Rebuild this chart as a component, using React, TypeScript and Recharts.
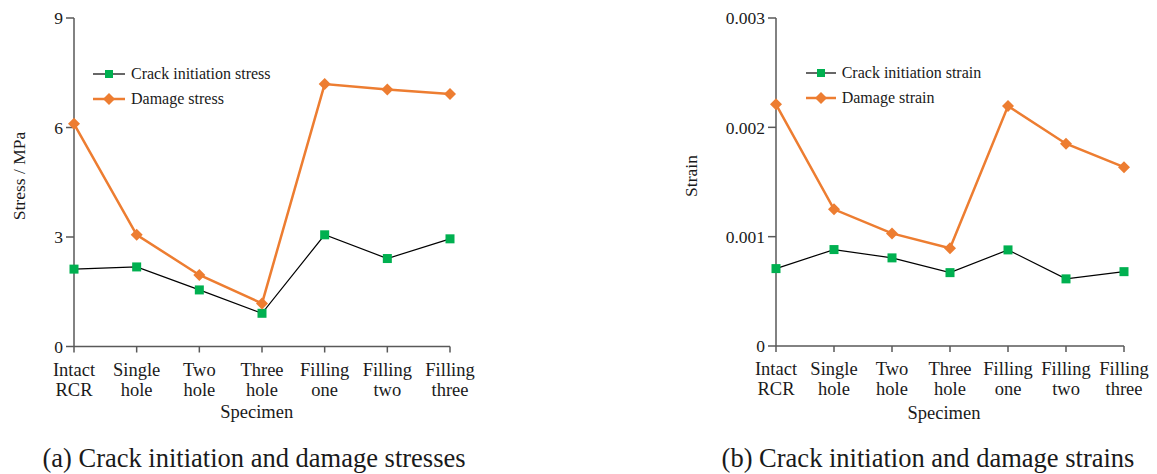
import { LineChart, Line, XAxis, YAxis } from "recharts";

const specimens = [
  "Intact RCR",
  "Single hole",
  "Two hole",
  "Three hole",
  "Filling one",
  "Filling two",
  "Filling three",
];

// stresses, MPa
const crackStress = [2.12, 2.18, 1.55, 0.91, 3.06, 2.41, 2.95];
const damageStress = [6.1, 3.06, 1.96, 1.18, 7.19, 7.04, 6.92];

// strains
const crackStrain = [0.000708, 0.000882, 0.000806, 0.000671, 0.000879, 0.000614, 0.00068];
const damageStrain = [0.00221, 0.00125, 0.00103, 0.000895, 0.002195, 0.00185, 0.001636];

const stressTicks = [0, 3, 6, 9];
const strainTicks = [0, 0.001, 0.002, 0.003];

const FONT = "Liberation Serif, Times New Roman, serif";
const AXIS = "#595959";
const GREEN = "#00B050";
const ORANGE = "#ED7D31";
const INK = "#1a1a1a";

const stressData = specimens.map((name, i) => ({
  name,
  crack: crackStress[i],
  damage: damageStress[i],
}));

const strainData = specimens.map((name, i) => ({
  name,
  crack: crackStrain[i],
  damage: damageStrain[i],
}));

const squareDot = (p: any) => (
  <rect key={`sq-${p.index}`} x={p.cx - 4.5} y={p.cy - 4.5} width={9} height={9} fill={GREEN} />
);

const diamondDot = (p: any) => (
  <polygon
    key={`dm-${p.index}`}
    points={`${p.cx},${p.cy - 6} ${p.cx + 6},${p.cy} ${p.cx},${p.cy + 6} ${p.cx - 6},${p.cy}`}
    fill={ORANGE}
  />
);

// two-line category labels, one word per line
const CategoryTick = ({ x, y, payload }: any) => {
  const words = String(payload.value).split(" ");
  return (
    <text x={x} y={y} textAnchor="middle" style={{ fontFamily: FONT, fontSize: 18.5, fill: INK }}>
      {words.map((w, i) => (
        <tspan key={i} x={x} dy={i === 0 ? 23 : 20}>
          {w}
        </tspan>
      ))}
    </text>
  );
};

function LegendBox({ names, iconW, left, top }: { names: string[]; iconW: number; left: number; top: number }) {
  return (
    <div style={{ position: "absolute", left, top, fontFamily: FONT, fontSize: 16, color: INK }}>
      {names.map((n, i) => (
        <div key={n} style={{ display: "flex", alignItems: "center", height: 25 }}>
          <svg width={iconW} height={14} style={{ marginRight: 6 }}>
            {i === 0 ? (
              <>
                <line x1={0} y1={7} x2={iconW} y2={7} stroke="#000" strokeWidth={1.2} />
                <rect x={iconW / 2 - 4} y={3} width={8} height={8} fill={GREEN} />
              </>
            ) : (
              <>
                <line x1={0} y1={7} x2={iconW} y2={7} stroke={ORANGE} strokeWidth={2.5} />
                <polygon
                  points={`${iconW / 2},1 ${iconW / 2 + 6},7 ${iconW / 2},13 ${iconW / 2 - 6},7`}
                  fill={ORANGE}
                />
              </>
            )}
          </svg>
          <span>{n}</span>
        </div>
      ))}
    </div>
  );
}

interface PanelProps {
  data: { name: string; crack: number; damage: number }[];
  ticks: number[];
  fmt: (v: number) => string;
  yTitle: string;
  yTitleX: number;
  xTitleX: number;
  xTitleY: number;
  width: number;
  marginLeft: number;
  marginRight: number;
  bottom: number;
}

function Panel(p: PanelProps) {
  const max = p.ticks[p.ticks.length - 1];
  return (
    <LineChart
      width={p.width}
      height={474}
      data={p.data}
      margin={{ top: 18, right: p.marginRight, bottom: p.bottom, left: p.marginLeft }}
    >
      <XAxis
        dataKey="name"
        height={60}
        interval={0}
        tick={<CategoryTick />}
        tickSize={6}
        tickMargin={0}
        axisLine={{ stroke: AXIS, strokeWidth: 1.5 }}
        tickLine={{ stroke: AXIS, strokeWidth: 1.5 }}
        label={{
          content: () => (
            <text
              x={p.xTitleX}
              y={p.xTitleY}
              textAnchor="middle"
              dominantBaseline="central"
              style={{ fontFamily: FONT, fontSize: 18.5, fill: INK }}
            >
              Specimen
            </text>
          ),
        }}
      />
      <YAxis
        width={60}
        domain={[0, max]}
        ticks={p.ticks}
        tickFormatter={p.fmt}
        tickSize={8}
        tickMargin={3}
        tick={{ fontSize: 17.5, fill: INK, style: { fontFamily: FONT } }}
        axisLine={{ stroke: AXIS, strokeWidth: 1.5 }}
        tickLine={{ stroke: AXIS, strokeWidth: 1.5 }}
        label={{
          content: () => (
            <text
              x={p.yTitleX}
              y={176}
              transform={`rotate(-90 ${p.yTitleX} 176)`}
              textAnchor="middle"
              dominantBaseline="central"
              style={{ fontFamily: FONT, fontSize: 17.5, fill: INK }}
            >
              {p.yTitle}
            </text>
          ),
        }}
      />
      <Line
        type="linear"
        dataKey="crack"
        stroke="#000"
        strokeWidth={1.2}
        dot={squareDot}
        activeDot={false}
        isAnimationActive={false}
      />
      <Line
        type="linear"
        dataKey="damage"
        stroke={ORANGE}
        strokeWidth={2.5}
        dot={diamondDot}
        activeDot={false}
        isAnimationActive={false}
      />
    </LineChart>
  );
}

const captionStyle: React.CSSProperties = {
  position: "absolute",
  top: 442,
  height: 32,
  lineHeight: "32px",
  fontFamily: FONT,
  fontSize: 26.5,
  color: INK,
  textAlign: "center",
  whiteSpace: "nowrap",
};

export default function App() {
  return (
    <div style={{ position: "absolute", left: 0, top: 0, width: 1157, height: 474, background: "#fff" }}>
      <div style={{ position: "absolute", left: 0, top: 0 }}>
        <Panel
          data={stressData}
          ticks={stressTicks}
          fmt={(v) => String(v)}
          yTitle="Stress / MPa"
          yTitleX={18.5}
          xTitleX={256.7}
          xTitleY={411.7}
          width={500}
          marginLeft={14}
          marginRight={50}
          bottom={67.5}
        />
        <LegendBox names={["Crack initiation stress", "Damage stress"]} iconW={32} left={93} top={61.5} />
      </div>
      <div style={{ position: "absolute", left: 650, top: 0 }}>
        <Panel
          data={strainData}
          ticks={strainTicks}
          fmt={(v) => (v === 0 ? "0" : v.toFixed(3))}
          yTitle="Strain"
          yTitleX={40.7}
          xTitleX={294}
          xTitleY={413.3}
          width={507}
          marginLeft={66}
          marginRight={33}
          bottom={68}
        />
        <LegendBox names={["Crack initiation strain", "Damage strain"]} iconW={30} left={155.7} top={60.5} />
      </div>
      <div style={{ ...captionStyle, left: 0, width: 508 }}>(a) Crack initiation and damage stresses</div>
      <div style={{ ...captionStyle, left: 700, width: 456 }}>(b) Crack initiation and damage strains</div>
    </div>
  );
}
